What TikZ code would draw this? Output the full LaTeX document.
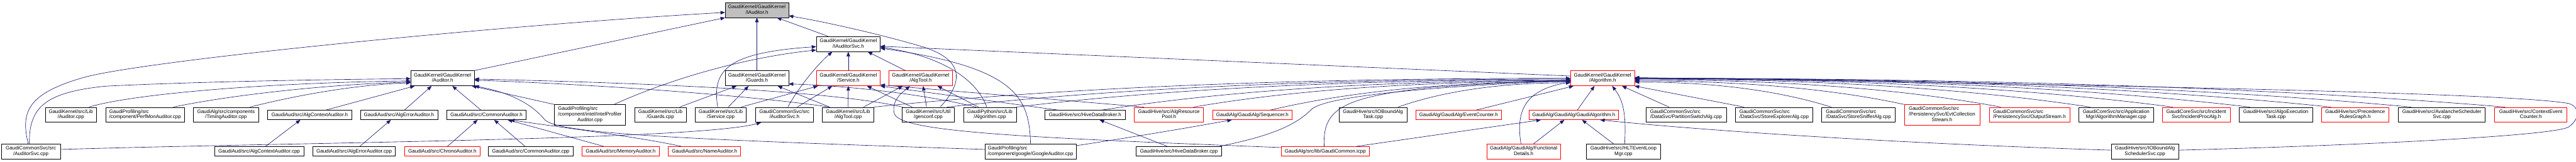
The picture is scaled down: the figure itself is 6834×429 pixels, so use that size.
\documentclass[tikz,border=0pt]{standalone}
\usepackage{fontspec}
\setmainfont{Liberation Sans}
\usetikzlibrary{arrows.meta}
\definecolor{edgeblue}{HTML}{191970}
\definecolor{rootgray}{HTML}{BFBFBF}
\definecolor{truncred}{HTML}{FF0000}
\newcommand\ndfont{\fontsize{10pt}{11pt}\selectfont}
\newcommand\GLab[2]{\begin{tabular}{@{}l@{}}#1\\\multicolumn{1}{@{}c@{}}{#2}\end{tabular}}
\tikzset{
  nd/.style={draw=black, line width=0.8pt, fill=white, inner xsep=2pt, inner ysep=0pt, font=\ndfont, text=black},
  rd/.style={nd, draw=truncred},
  h1/.style={minimum height=18.75pt},
  h2/.style={minimum height=30pt},
  h3/.style={minimum height=40.5pt},
  W/.style={minimum width=#1*0.75pt},
  inc/.style={draw=edgeblue, line width=0.8pt, -{Triangle[length=9pt,width=7pt]}}
}
\begin{document}
\begin{tikzpicture}[x=0.75pt,y=0.75pt]
\useasboundingbox (0,0) rectangle (6834,-429);
\fill[white] (0,0) rectangle (6834,-429);
% ---- top rows
\node[nd,h2,W=168,fill=rootgray] (I) at (2008,-26.5) {\GLab{GaudiKernel/GaudiKernel}{/IAuditor.h}};
\node[nd,h2,W=169] (IS) at (2250.5,-117) {\GLab{GaudiKernel/GaudiKernel}{/IAuditorSvc.h}};
\node[nd,h2,W=168] (AH) at (1174,-208) {\GLab{GaudiKernel/GaudiKernel}{/Auditor.h}};
\node[nd,h2,W=168] (GH) at (2008,-208) {\GLab{GaudiKernel/GaudiKernel}{/Guards.h}};
\node[rd,h2,W=169] (SH) at (2250.5,-208) {\GLab{GaudiKernel/GaudiKernel}{/Service.h}};
\node[rd,h2,W=169] (TH) at (2442.5,-208) {\GLab{GaudiKernel/GaudiKernel}{/AlgTool.h}};
\node[rd,h2,W=169] (ALH) at (4251.5,-208) {\GLab{GaudiKernel/GaudiKernel}{/Algorithm.h}};
% ---- row 4
\node[nd,h2,W=136] (AC) at (188,-305) {\GLab{GaudiKernel/src/Lib}{/Auditor.cpp}};
\node[nd,h2,W=210] (PM) at (385,-305) {\GLab{GaudiProfiling/src}{/component/PerfMonAuditor.cpp}};
\node[nd,h2,W=173] (TA) at (599.5,-305) {\GLab{GaudiAlg/src/components}{/TimingAuditor.cpp}};
\node[nd,h1,W=223] (ACH) at (821.5,-305.5) {GaudiAud/src/AlgContextAuditor.h};
\node[nd,h1,W=205] (AEH) at (1058.5,-305.5) {GaudiAud/src/AlgErrorAuditor.h};
\node[nd,h1,W=211] (CAH) at (1290.5,-305.5) {GaudiAud/src/CommonAuditor.h};
\node[nd,h3,W=188] (IPA) at (1565,-305) {\GLab{GaudiProfiling/src\\/component/intel/IntelProfiler}{Auditor.cpp}};
\node[nd,h2,W=136] (GC) at (1752,-305) {\GLab{GaudiKernel/src/Lib}{/Guards.cpp}};
\node[nd,h2,W=136] (SC) at (1912,-305) {\GLab{GaudiKernel/src/Lib}{/Service.cpp}};
\node[nd,h2,W=154] (ASH) at (2081,-305) {\GLab{GaudiCommonSvc/src}{/AuditorSvc.h}};
\node[nd,h2,W=136] (TC) at (2250,-305) {\GLab{GaudiKernel/src/Lib}{/AlgTool.cpp}};
\node[nd,h2,W=139] (GEN) at (2462.5,-305) {\GLab{GaudiKernel/src/Util}{/genconf.cpp}};
\node[nd,h2,W=140] (PYA) at (2626,-305) {\GLab{GaudiPython/src/Lib}{/Algorithm.cpp}};
\node[nd,h1,W=213] (HDB) at (2878.5,-305.5) {GaudiHive/src/HiveDataBroker.h};
\node[rd,h2,W=184] (ARP) at (3101,-305) {\GLab{GaudiHive/src/AlgResource}{Pool.h}};
\node[rd,h1,W=209] (SEQ) at (3322.5,-305.5) {GaudiAlg/GaudiAlg/Sequencer.h};
\node[nd,h2,W=179] (IOT) at (3642.5,-305) {\GLab{GaudiHive/src/IOBoundAlg}{Task.cpp}};
\node[rd,h1,W=227] (EC) at (3869.5,-305.5) {GaudiAlg/GaudiAlg/EventCounter.h};
\node[rd,h1,W=236] (GA) at (4175,-305.5) {GaudiAlg/GaudiAlg/GaudiAlgorithm.h};
\node[nd,h2,W=214] (PSA) at (4473,-305) {\GLab{GaudiCommonSvc/src}{/DataSvc/PartitionSwitchAlg.cpp}};
\node[nd,h2,W=205] (SEA) at (4706.5,-305) {\GLab{GaudiCommonSvc/src}{/DataSvc/StoreExplorerAlg.cpp}};
\node[nd,h2,W=195] (SSA) at (4930.5,-305) {\GLab{GaudiCommonSvc/src}{/DataSvc/StoreSnifferAlg.cpp}};
\node[rd,h3,W=200] (ECS) at (5152,-305) {\GLab{GaudiCommonSvc/src\\/PersistencySvc/EvtCollection}{Stream.h}};
\node[rd,h2,W=214] (OS) at (5384,-305) {\GLab{GaudiCommonSvc/src}{/PersistencySvc/OutputStream.h}};
\node[nd,h2,W=198] (AM) at (5614,-305) {\GLab{GaudiCoreSvc/src/Application}{Mgr/AlgorithmManager.cpp}};
\node[rd,h2,W=179] (IPR) at (5826.5,-305) {\GLab{GaudiCoreSvc/src/Incident}{Svc/IncidentProcAlg.h}};
\node[nd,h2,W=195] (AET) at (6037.5,-305) {\GLab{GaudiHive/src/AlgoExecution}{Task.cpp}};
\node[rd,h2,W=180] (PRG) at (6248,-305) {\GLab{GaudiHive/src/Precedence}{RulesGraph.h}};
\node[nd,h2,W=230] (ASS) at (6478,-305) {\GLab{GaudiHive/src/AvalancheScheduler}{Svc.cpp}};
\node[rd,h2,W=192] (CEC) at (6714,-305) {\GLab{GaudiHive/src/ContextEvent}{Counter.h}};
% ---- bottom row
\node[nd,h2,W=156] (ASC) at (82,-403) {\GLab{GaudiCommonSvc/src}{/AuditorSvc.cpp}};
\node[nd,h1,W=237] (ACC) at (687.5,-402) {GaudiAud/src/AlgContextAuditor.cpp};
\node[nd,h1,W=219] (AEC) at (939.5,-402) {GaudiAud/src/AlgErrorAuditor.cpp};
\node[rd,h1,W=199] (CHR) at (1173.5,-402) {GaudiAud/src/ChronoAuditor.h};
\node[nd,h1,W=224] (CAC) at (1408,-402) {GaudiAud/src/CommonAuditor.cpp};
\node[rd,h1,W=205] (MEM) at (1646.5,-402) {GaudiAud/src/MemoryAuditor.h};
\node[rd,h1,W=192] (NAM) at (1869,-402) {GaudiAud/src/NameAuditor.h};
\node[nd,h2,W=242] (GOO) at (2734,-403) {\GLab{GaudiProfiling/src}{/component/google/GoogleAuditor.cpp}};
\node[nd,h1,W=227] (HDC) at (3127.5,-402) {GaudiHive/src/HiveDataBroker.cpp};
\node[rd,h1,W=234] (GCI) at (3516,-402) {GaudiAlg/src/lib/GaudiCommon.icpp};
\node[rd,h2,W=196] (FD) at (4042,-403) {\GLab{GaudiAlg/GaudiAlg/Functional}{Details.h}};
\node[nd,h2,W=196] (HLT) at (4307,-403) {\GLab{GaudiHive/src/HLTEventLoop}{Mgr.cpp}};
\node[nd,h2,W=179] (IOS) at (5690.5,-403) {\GLab{GaudiHive/src/IOBoundAlg}{SchedulerSvc.cpp}};
% ==== edges into IAuditor.h
\draw[inc] ([shift={(-7,0)}]ASC.north) .. controls (55,-300) and (70,-250) .. (218,-207) .. controls (368,-162) and (1324,-67) .. ([shift={(0,-6.5)}]I.west);
\draw[inc] (AH.north east) -- (I.south west);
\draw[inc] (GH.north) -- (I.south);
\draw[inc] ([shift={(-53.5,0)}]IS.north) -- ([shift={(53,0)}]I.south);
\draw[inc] ([shift={(31.5,0)}]GEN.north) .. controls (2555,-220) and (2560,-160) .. (2450,-125) .. controls (2350,-95) and (2200,-60) .. ([shift={(0,-15.5)}]I.east);
% ==== edges into IAuditorSvc.h
\draw[inc] (SH.north) -- (IS.south);
\draw[inc] ([shift={(9,0)}]ASH.north) .. controls (2120,-230) and (2170,-170) .. ([shift={(-42.5,0)}]IS.south);
\draw[inc] ([shift={(-8,0)}]SC.north) .. controls (1888,-185) and (1930,-140) .. ([shift={(0,-7)}]IS.west);
\draw[inc] ([shift={(64,0)}]IPA.north) .. controls (1800,-200) and (2000,-150) .. ([shift={(0,-16)}]IS.west);
\draw[inc] ([shift={(-40.5,0)}]TH.north) -- ([shift={(51.5,0)}]IS.south);
\draw[inc] ([shift={(-8,0)}]PYA.north) .. controls (2590,-210) and (2500,-150) .. ([shift={(0,-8)}]IS.east);
\draw[inc] (GOO.north) .. controls (2730,-260) and (2700,-180) .. ([shift={(0,-11)}]IS.east);
\draw[inc] ([shift={(0,6)}]ALH.west) -- ([shift={(0,-6)}]IS.east);
% ==== edges into Auditor.h
\draw[inc] ([shift={(-4,0)}]ASC.north) .. controls (76,-285) and (120,-245) .. (280,-229) .. controls (500,-218) and (800,-212) .. ([shift={(0,-1)}]AH.west);
\draw[inc] ([shift={(48,0)}]AC.north) .. controls (350,-250) and (700,-220) .. ([shift={(0,-7)}]AH.west);
\draw[inc] ([shift={(75,0)}]PM.north) .. controls (600,-255) and (850,-225) .. ([shift={(0,-10)}]AH.west);
\draw[inc] ([shift={(63.5,0)}]TA.north) .. controls (800,-250) and (950,-225) .. ([shift={(0,-12)}]AH.west);
\draw[inc] ([shift={(43,0)}]ACH.north) -- ([shift={(-74,0)}]AH.south);
\draw[inc] ([shift={(14.5,0)}]AEH.north) -- ([shift={(-29,0)}]AH.south);
\draw[inc] ([shift={(-14.5,0)}]CAH.north) -- ([shift={(26,0)}]AH.south);
\draw[inc] (IPA.north west) -- ([shift={(78,0)}]AH.south);
\draw[inc] ([shift={(0,6)}]GOO.west) .. controls (1800,-370) and (1480,-355) .. (1445,-318) .. controls (1410,-275) and (1350,-245) .. (AH.south east);
\draw[inc] ([shift={(-49,0)}]TC.north) .. controls (2000,-255) and (1600,-225) .. ([shift={(0,-5)}]AH.east);
\draw[inc] ([shift={(-67.5,0)}]GEN.north) .. controls (2200,-240) and (1700,-220) .. ([shift={(0,-2)}]AH.east);
% ==== edges into Guards.h
\draw[inc] ([shift={(51,0)}]GC.north) -- ([shift={(-54,0)}]GH.south);
\draw[inc] ([shift={(20,0)}]SC.north) -- ([shift={(-22,0)}]GH.south);
\draw[inc] ([shift={(-49,0)}]TC.north) -- ([shift={(55,0)}]GH.south);
\draw[inc] ([shift={(-37,0)}]PYA.north) .. controls (2450,-250) and (2250,-228) .. ([shift={(0,-15)}]GH.east);
% ==== edges into Service.h
\draw[inc] ([shift={(54,0)}]SC.north) -- ([shift={(-80.5,0)}]SH.south);
\draw[inc] ([shift={(34,0)}]ASH.north) -- ([shift={(-42.5,0)}]SH.south);
\draw[inc] (TC.north) -- (SH.south);
\draw[inc] ([shift={(-42.5,0)}]GEN.north) -- ([shift={(49.5,0)}]SH.south);
\draw[inc] ([shift={(-71.5,0)}]HDB.north) -- (SH.south east);
\draw[inc] ([shift={(-66,0)}]ARP.north) -- ([shift={(0,3)}]SH.south east);
% ==== edges into AlgTool.h
\draw[inc] ([shift={(41,0)}]TC.north) -- ([shift={(-47.5,0)}]TH.south);
\draw[inc] ([shift={(0,10)}]GCI.west) .. controls (2700,-365) and (2380,-350) .. (2372,-300) .. controls (2365,-265) and (2395,-245) .. ([shift={(-28.5,0)}]TH.south);
\draw[inc] ([shift={(-4.5,0)}]GEN.north) -- ([shift={(6.5,0)}]TH.south);
\draw[inc] ([shift={(-30,0)}]PYA.north) -- ([shift={(44.5,0)}]TH.south);
% ==== CommonAuditor.h etc.
\draw[inc] ([shift={(13.5,0)}]CHR.north) -- ([shift={(-23.5,0)}]CAH.south);
\draw[inc] ([shift={(-15,0)}]CAC.north) -- ([shift={(20.5,0)}]CAH.south);
\draw[inc] ([shift={(-44.5,0)}]MEM.north) -- ([shift={(56.5,0)}]CAH.south);
\draw[inc] ([shift={(-61,0)}]NAM.north) .. controls (1700,-365) and (1500,-340) .. ([shift={(62.5,0)}]CAH.south);
\draw[inc] ([shift={(17,0)}]ACC.north) -- ([shift={(-24.5,0)}]ACH.south);
\draw[inc] ([shift={(15,0)}]AEC.north) -- ([shift={(-21.5,0)}]AEH.south);
\draw[inc] ([shift={(0,6)}]ASC.east) .. controls (800,-378) and (1850,-372) .. ([shift={(-62,0)}]ASH.south);
\draw[inc] ([shift={(-30.5,0)}]HDC.north) -- ([shift={(38.5,0)}]HDB.south);
\draw[inc] ([shift={(0,16)}]GOO.east) .. controls (3000,-365) and (3150,-340) .. ([shift={(-54.5,0)}]SEQ.south);
% ==== GaudiAlgorithm.h
\draw[inc] ([shift={(82,0)}]GCI.north) -- ([shift={(-87,0)}]GA.south);
\draw[inc] ([shift={(26,0)}]FD.north) -- ([shift={(-25,0)}]GA.south);
\draw[inc] ([shift={(-26,0)}]HLT.north) -- ([shift={(22,0)}]GA.south);
\draw[inc] ([shift={(0,4)}]IOS.west) .. controls (5000,-380) and (4500,-345) .. ([shift={(70,0)}]GA.south);
% ==== Algorithm.h
\draw[inc] ([shift={(9.5,0)}]GA.north) -- ([shift={(-21.5,0)}]ALH.south);
\draw[inc] ([shift={(-7,0)}]FD.north) .. controls (4022,-300) and (4040,-240) .. ([shift={(0,-10)}]ALH.west);
\draw[inc] ([shift={(3,0)}]HLT.north) .. controls (4315,-300) and (4305,-265) .. ([shift={(25.5,0)}]ALH.south);
\draw[inc] ([shift={(-45,0)}]PSA.north) -- ([shift={(51.5,0)}]ALH.south);
\draw[inc] ([shift={(-79.5,0)}]SEA.north) -- (ALH.south east);
\draw[inc] ([shift={(-72.5,0)}]SSA.north) .. controls (4701,-235) and (4519,-218) .. ([shift={(0,-10)}]ALH.east);
\draw[inc] (ECS.north west) .. controls (4837,-231) and (4587,-215) .. ([shift={(0,-7)}]ALH.east);
\draw[inc] ([shift={(-76,0)}]OS.north) .. controls (5016,-230) and (4676,-212) .. ([shift={(0,-4)}]ALH.east);
\draw[inc] ([shift={(-69,0)}]AM.north) .. controls (5182,-229) and (4759,-210) .. ([shift={(0,-2)}]ALH.east);
\draw[inc] ([shift={(-62.5,0)}]IPR.north) .. controls (5336,-228) and (4836,-209) .. ([shift={(0,-1)}]ALH.east);
\draw[inc] ([shift={(-68.5,0)}]AET.north) .. controls (5479,-227) and (4908,-208) .. (ALH.east);
\draw[inc] ([shift={(-64,0)}]PRG.north) .. controls (5630,-227) and (4983,-208) .. (ALH.east);
\draw[inc] ([shift={(-81,0)}]ASS.north) .. controls (5779,-227) and (5057,-208) .. (ALH.east);
\draw[inc] ([shift={(-68,0)}]CEC.north) .. controls (5953,-227) and (5144,-208) .. (ALH.east);
\draw[inc] ([shift={(0,4)}]IOS.east) .. controls (6300,-385) and (6780,-360) .. (6815,-337) .. controls (6845,-315) and (6845,-285) .. (6815,-275) .. controls (6650,-245) and (5500,-225) .. ([shift={(0,2)}]ALH.east);
\draw[inc] ([shift={(50.5,0)}]GEN.north) .. controls (3009,-229) and (3588,-210) .. ([shift={(0,-2)}]ALH.west);
\draw[inc] (PYA.north east) .. controls (3137,-231) and (3652,-212) .. ([shift={(0,-4)}]ALH.west);
\draw[inc] (TC.north east) .. controls (2873,-227) and (3520,-208) .. (ALH.west);
\draw[inc] ([shift={(44.5,0)}]HDB.north) .. controls (3296,-234) and (3732,-214) .. ([shift={(0,-6)}]ALH.west);
\draw[inc] ([shift={(65,0)}]ARP.north) .. controls (3466,-233) and (3817,-216) .. ([shift={(0,-8)}]ALH.west);
\draw[inc] ([shift={(47.5,0)}]SEQ.north) .. controls (3609,-236) and (3888,-217) .. ([shift={(0,-9)}]ALH.west);
\draw[inc] ([shift={(66.5,0)}]IOT.north) .. controls (3846,-236) and (4007,-220) .. ([shift={(0,-12)}]ALH.west);
\draw[inc] ([shift={(46.5,0)}]EC.north) -- ([shift={(8,0)}]ALH.south west);
\draw[inc] ([shift={(-3,0)}]GCI.north) .. controls (3508,-290) and (3560,-258) .. (3800,-232) .. controls (3950,-222) and (4050,-216) .. ([shift={(0,-5)}]ALH.west);
\draw[inc] ([shift={(106.5,0)}]HDC.north) .. controls (3380,-360) and (3440,-330) .. (3480,-290) .. controls (3520,-255) and (3800,-230) .. ([shift={(0,-6)}]ALH.west);
\end{tikzpicture}
\end{document}
